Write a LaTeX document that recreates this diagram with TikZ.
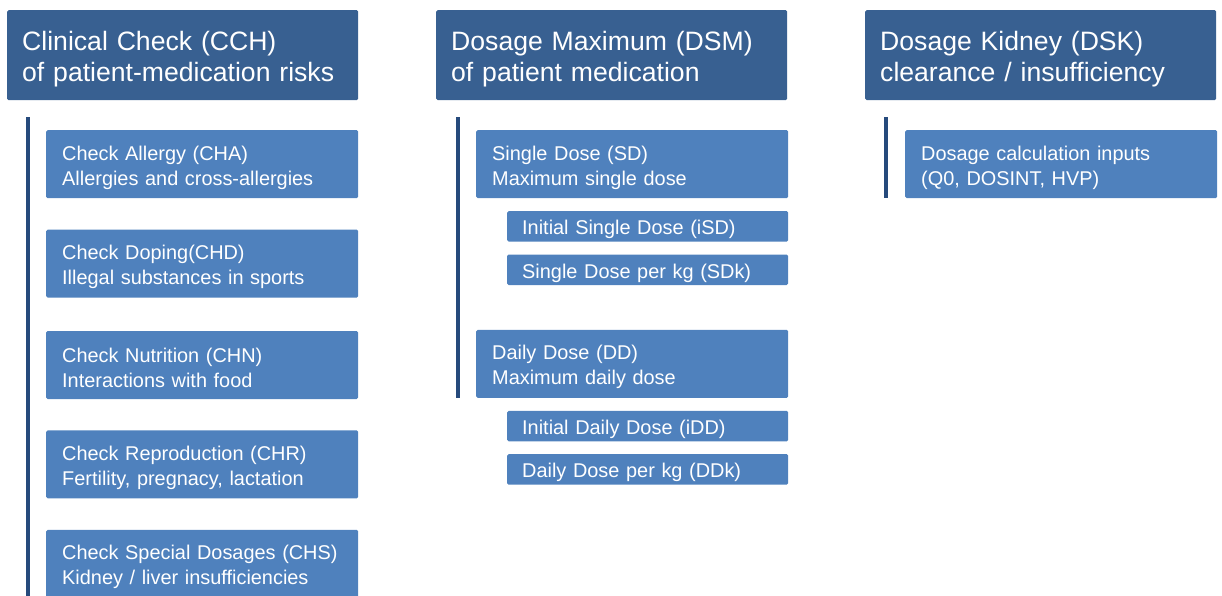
\documentclass[tikz,border=0pt]{standalone}
\usepackage{fontspec}
\setmainfont{Liberation Sans}
\usepackage{tikz}
\usetikzlibrary{positioning}

\definecolor{headblue}{RGB}{56,96,145}
\definecolor{itemblue}{RGB}{79,129,189}
\definecolor{barblue}{RGB}{38,74,124}

\begin{document}
\begin{tikzpicture}[
			x=1pt, y=-1pt,
			head/.style = {fill=headblue, text=white, anchor=north west, align=left,
				minimum width=351pt, minimum height=90pt, text width=321pt,
				inner xsep=15pt, rounded corners=1.5pt, font=\fontsize{26.6}{31}\selectfont,
				execute at begin node={\rule{0pt}{26.5pt}}},
			item/.style = {fill=itemblue, text=white, anchor=north west, align=left,
				minimum width=312pt, minimum height=68pt, text width=280pt,
				inner xsep=16pt, inner ysep=3pt, rounded corners=1.5pt, font=\fontsize{19.9}{25}\selectfont,
				execute at begin node={\rule{0pt}{20.8pt}}},
			subitem/.style = {item, minimum width=281pt, minimum height=30.5pt, text width=251pt,
				inner xsep=15pt, inner ysep=2pt,
				execute at begin node={\rule{0pt}{17.5pt}}},
			bar/.style = {draw=barblue, line width=3.5pt}
		]
		\useasboundingbox (0,0) rectangle (1222,595);
		% Headers.
		\node[head] (cch) at (7,10) {Clinical Check (CCH)\\of patient-medication risks};
		\node[head] (dsm) at (436,10) {Dosage Maximum (DSM)\\of patient medication};
		\node[head] (dsk) at (865,10) {Dosage Kidney (DSK)\\clearance / insufficiency};
		% Clinical checks.
		\node[item] (cha) at (46,130) {Check Allergy (CHA)\\Allergies and cross-allergies};
		\node[item, below=31pt of cha.south west, anchor=north west] (chd) {Check Doping(CHD)\\Illegal substances in sports};
		\node[item, below=33pt of chd.south west, anchor=north west] (chn) {Check Nutrition (CHN)\\Interactions with food};
		\node[item, below=31pt of chn.south west, anchor=north west] (chr) {Check Reproduction (CHR)\\Fertility, pregnacy, lactation};
		\node[item, below=31pt of chr.south west, anchor=north west] (chs) {Check Special Dosages (CHS)\\Kidney / liver insufficiencies};
		% Dosage maximum.
		\node[item] (sd) at (476,130) {Single Dose (SD)\\Maximum single dose};
		\node[subitem, below=12.5pt of sd.south east, anchor=north east] (isd) {Initial Single Dose (iSD)};
		\node[subitem, below=12.5pt of isd.south east, anchor=north east] (sdk) {Single Dose per kg (SDk)};
		\node[item, below=44.5pt of sdk.south east, anchor=north east] (dd) {Daily Dose (DD)\\Maximum daily dose};
		\node[subitem, below=12.5pt of dd.south east, anchor=north east] (idd) {Initial Daily Dose (iDD)};
		\node[subitem, below=12.5pt of idd.south east, anchor=north east] (ddk) {Daily Dose per kg (DDk)};
		% Dosage kidney.
		\node[item] (inp) at (905,130) {Dosage calculation inputs\\(Q0, DOSINT, HVP)};
		% Bars.
		\draw[bar] ([xshift=21pt,yshift=-17pt]cch.south west) -- ([xshift=21pt]cch.south west |- chs.south);
		\draw[bar] ([xshift=22pt,yshift=-17pt]dsm.south west) -- ([xshift=22pt]dsm.south west |- dd.south);
		\draw[bar] ([xshift=21pt,yshift=-17pt]dsk.south west) -- ([xshift=21pt]dsk.south west |- inp.south);
	\end{tikzpicture}
\end{document}
